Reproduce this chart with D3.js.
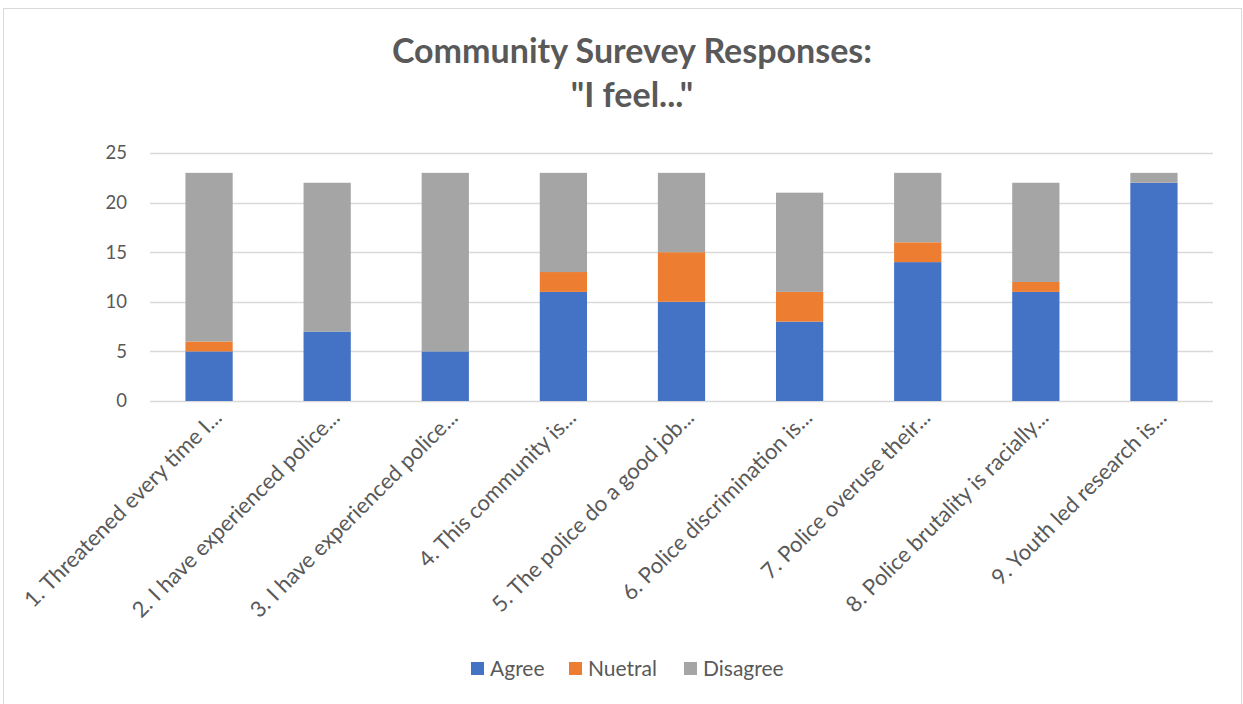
<!DOCTYPE html>
<html>
<head>
<meta charset="utf-8">
<script src="https://cdn.jsdelivr.net/npm/d3@7"></script>
<style>
  body { margin: 0; background: #fff; }
  text { font-family: Lato, "Open Sans", sans-serif; fill: #595959; }
</style>
</head>
<body>
<div id="container"></div>
<script>
var categories = [
  '1. Threatened every time I...',
  '2. I have experienced police...',
  '3. I have experienced police...',
  '4. This community is...',
  '5. The police do a good job...',
  '6. Police discrimination is...',
  '7. Police overuse their...',
  '8. Police brutality is racially...',
  '9. Youth led research is...'
];
var agree    = [5, 7, 5, 11, 10, 8, 14, 11, 22];
var neutral  = [1, 0, 0, 2, 5, 3, 2, 1, 0];
var disagree = [17, 15, 18, 10, 8, 10, 7, 10, 1];
var seriesNames = ['Agree', 'Nuetral', 'Disagree'];
var seriesColors = ['#4472C4', '#ED7D31', '#A5A5A5'];
var yTicks = [0, 5, 10, 15, 20, 25];

var width = 1243, height = 704;
var plot = {left: 150, right: 1213, top: 153, bottom: 401};

var svg = d3.select('#container').append('svg')
    .attr('width', width)
    .attr('height', height);

// chart border
svg.append('rect')
    .attr('x', 3.5).attr('y', 8.5)
    .attr('width', 1238).attr('height', 700)
    .attr('fill', '#fff')
    .attr('stroke', '#d9d9d9');

// title
var title = svg.append('text')
    .attr('text-anchor', 'middle')
    .style('font-size', '34px')
    .style('font-weight', 'bold');
title.append('tspan').attr('x', 632).attr('y', 63).text('Community Surevey Responses:');
title.append('tspan').attr('x', 632).attr('y', 107).text('"I feel..."');

var rows = categories.map(function(c, i) {
  return {cat: c, Agree: agree[i], Nuetral: neutral[i], Disagree: disagree[i]};
});
var stacked = d3.stack().keys(seriesNames)(rows);

var x = d3.scaleBand()
    .domain(categories)
    .range([plot.left, plot.right])
    .paddingInner(0.6)
    .paddingOuter(0.3);

var y = d3.scaleLinear()
    .domain([0, 25])
    .range([plot.bottom, plot.top]);

// gridlines
svg.append('g').selectAll('line')
    .data(yTicks)
    .enter().append('line')
    .attr('x1', plot.left).attr('x2', plot.right)
    .attr('y1', function(d) { return Math.round(y(d)) + 0.5; })
    .attr('y2', function(d) { return Math.round(y(d)) + 0.5; })
    .attr('stroke', '#d9d9d9')
    .attr('stroke-width', 1.3);

// y axis labels
var yAxis = d3.axisLeft(y).tickValues(yTicks).tickSize(0).tickPadding(23);
var yg = svg.append('g')
    .attr('transform', 'translate(' + plot.left + ',0)')
    .call(yAxis);
yg.select('.domain').remove();
yg.selectAll('text')
    .style('font-size', '18.5px')
    .style('font-family', 'Lato, "Open Sans", sans-serif')
    .attr('fill', '#595959');

// bars
svg.append('g').selectAll('g')
    .data(stacked)
    .enter().append('g')
    .attr('fill', function(d, i) { return seriesColors[i]; })
    .selectAll('rect')
    .data(function(d) { return d; })
    .enter().append('rect')
    .attr('x', function(d) { return x(d.data.cat); })
    .attr('width', x.bandwidth())
    .attr('y', function(d) { return y(d[1]); })
    .attr('height', function(d) { return y(d[0]) - y(d[1]); });

// x axis labels
var xAxis = d3.axisBottom(x).tickSize(0).tickPadding(0);
var xg = svg.append('g')
    .attr('transform', 'translate(0,' + plot.bottom + ')')
    .call(xAxis);
xg.select('.domain').remove();
xg.selectAll('text')
    .style('font-size', '22px')
    .style('font-family', 'Lato, "Open Sans", sans-serif')
    .attr('fill', '#595959')
    .attr('text-anchor', 'end')
    .attr('y', 0)
    .attr('dy', '0')
    .attr('transform', 'translate(14,18) rotate(-45)');

// legend
var legendX = [471, 569, 684];
var legend = svg.append('g').selectAll('g')
    .data(seriesNames)
    .enter().append('g')
    .attr('transform', function(d, i) { return 'translate(' + legendX[i] + ',662)'; });
legend.append('rect')
    .attr('width', 13).attr('height', 13)
    .attr('fill', function(d, i) { return seriesColors[i]; });
legend.append('text')
    .attr('x', 19).attr('y', 14)
    .style('font-size', '21px')
    .text(function(d) { return d; });
</script>
</body>
</html>
